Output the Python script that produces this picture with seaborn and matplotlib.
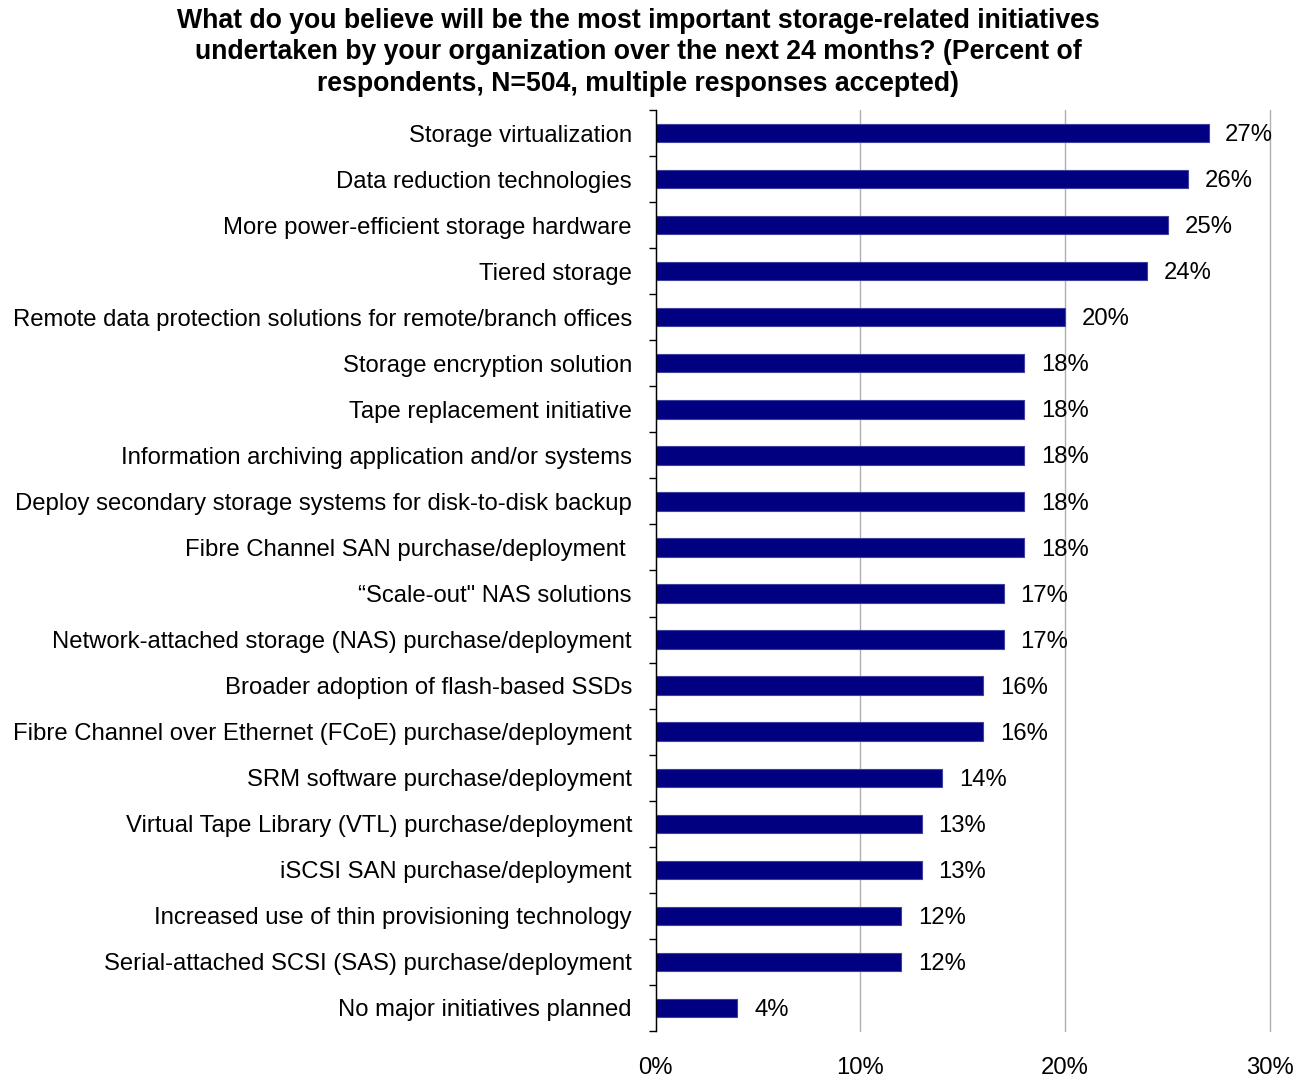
import matplotlib
matplotlib.use("Agg")
import matplotlib.pyplot as plt
import seaborn as sns
import pandas as pd
import numpy as np
from matplotlib.ticker import FixedLocator

categories = [
    "Storage virtualization",
    "Data reduction technologies",
    "More power-efficient storage hardware",
    "Tiered storage",
    "Remote data protection solutions for remote/branch offices",
    "Storage encryption solution",
    "Tape replacement initiative",
    "Information archiving application and/or systems",
    "Deploy secondary storage systems for disk-to-disk backup",
    "Fibre Channel SAN purchase/deployment ",
    "\u201cScale-out\" NAS solutions",
    "Network-attached storage (NAS) purchase/deployment",
    "Broader adoption of flash-based SSDs",
    "Fibre Channel over Ethernet (FCoE) purchase/deployment",
    "SRM software purchase/deployment",
    "Virtual Tape Library (VTL) purchase/deployment",
    "iSCSI SAN purchase/deployment",
    "Increased use of thin provisioning technology",
    "Serial-attached SCSI (SAS) purchase/deployment",
    "No major initiatives planned",
]
values = [27, 26, 25, 24, 20, 18, 18, 18, 18, 18, 17, 17, 16, 16, 14, 13, 13, 12, 12, 4]
x_ticks = [0, 10, 20, 30]
x_tick_labels = ["0%", "10%", "20%", "30%"]

title = ("What do you believe will be the most important storage-related initiatives\n"
         "undertaken by your organization over the next 24 months? (Percent of\n"
         "respondents, N=504, multiple responses accepted)")

sns.set_theme(style="white")
plt.rcParams['font.family'] = ['Liberation Sans', 'DejaVu Sans']

df = pd.DataFrame({"cat": categories, "val": values})

fig = plt.figure(figsize=(13.03, 10.78), dpi=100)
ax = fig.add_axes([655.5/1303, 1 - 1031/1078, (1270 - 655.5)/1303, (1031 - 110)/1078])

sns.barplot(data=df, y="cat", x="val", orient="h", color="#000080", width=0.4,
            saturation=1, edgecolor="#4040a0", linewidth=0.8, ax=ax, zorder=3)

FS = 17.2
ax.set_xlim(0, 30)
ax.set_ylim(len(categories) - 0.5, -0.5)
ax.set_xticks(x_ticks)
ax.set_xticklabels(x_tick_labels, fontsize=FS, color="black")
ax.tick_params(axis="x", length=0, pad=19)
ax.set_yticks(range(len(categories)))
ax.set_yticklabels(categories, fontsize=FS, color="black")
ax.tick_params(axis="y", which="major", length=0, pad=17)
ax.yaxis.set_minor_locator(FixedLocator(np.arange(-0.5, len(categories), 1.0)))
ax.tick_params(axis="y", which="minor", length=5, width=1, color="black", left=True)
ax.set_xlabel("")
ax.set_ylabel("")

ax.grid(axis="x", color="#b0b0b0", linewidth=1, zorder=0)
ax.grid(axis="y", visible=False)
for gl in ax.get_xgridlines():
    gl.set_clip_on(False)
for s in ["top", "right", "bottom"]:
    ax.spines[s].set_visible(False)
ax.spines["left"].set_color("black")
ax.spines["left"].set_linewidth(1)
ax.spines["left"].set_zorder(4)

for c in ax.containers:
    texts = ax.bar_label(c, labels=[f"{v}%" for v in values], padding=12, fontsize=FS, color="black")
    for t in texts:
        t.xyann = (12, -1.5)

fig.text(638/1303, 1 - 8/1078, title, ha="center", va="top", fontsize=19.2,
         fontweight="bold", linespacing=1.27, color="black")

fig.savefig("out.png", dpi=100, facecolor="white")
